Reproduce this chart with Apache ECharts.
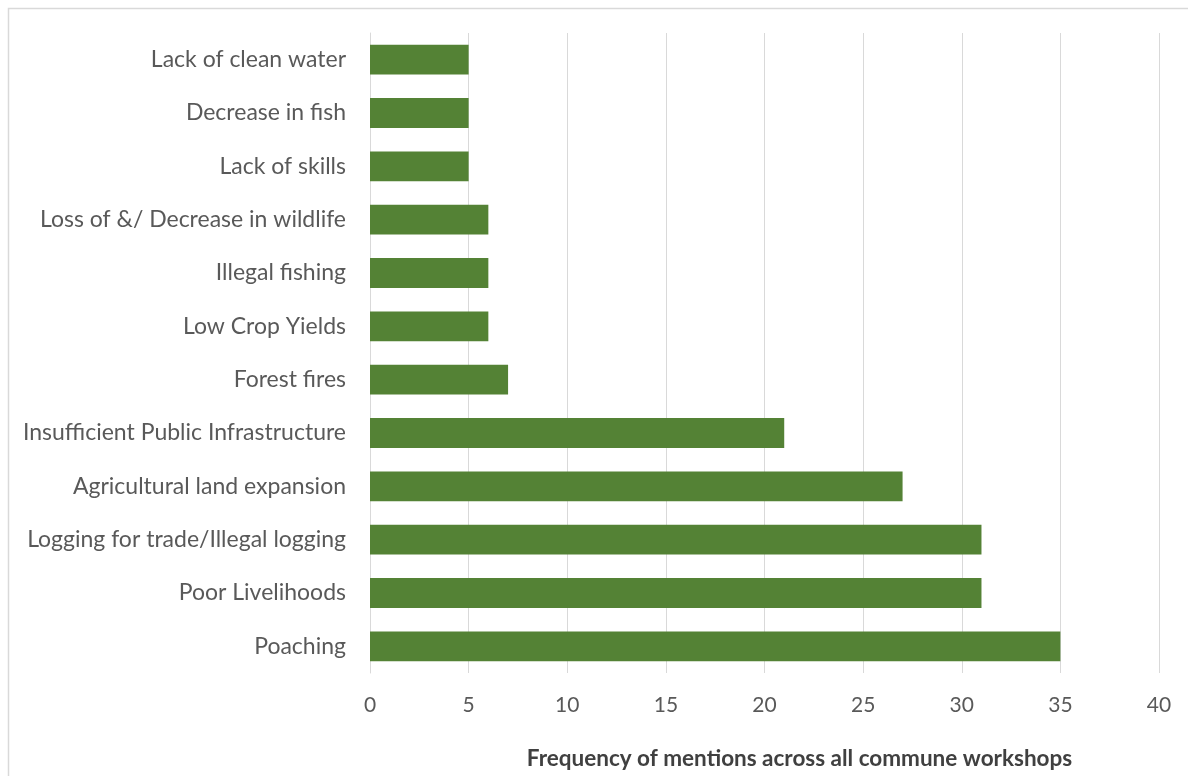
<!DOCTYPE html>
<html>
<head>
<meta charset="utf-8">
<script src="https://cdn.jsdelivr.net/npm/echarts@6/dist/echarts.min.js"></script>
<style>
  html, body { margin: 0; padding: 0; background: #ffffff; }
  #chart { width: 1188px; height: 776px; }
</style>
</head>
<body>
<div id="chart"></div>
<script>
// Problems raised in commune workshops (listed bottom-to-top on the category axis)
const categories = [
  'Poaching',
  'Poor Livelihoods',
  'Logging for trade/Illegal logging',
  'Agricultural land expansion',
  'Insufficient Public Infrastructure',
  'Forest fires',
  'Low Crop Yields',
  'Illegal fishing',
  'Loss of &/ Decrease in wildlife',
  'Lack of skills',
  'Decrease in fish',
  'Lack of clean water'
];
const mentions = [35, 31, 31, 27, 21, 7, 6, 6, 6, 5, 5, 5];
const axisTitle = 'Frequency of mentions across all commune workshops';

const FONT = 'Lato, "Open Sans", sans-serif';
const chart = echarts.init(document.getElementById('chart'));

chart.setOption({
  backgroundColor: '#ffffff',
  animation: false,
  graphic: [{
    type: 'rect',
    shape: { x: 8.5, y: 8.5, width: 1200, height: 800 },
    style: { fill: 'none', stroke: '#d9d9d9', lineWidth: 1.5 },
    silent: true
  }],
  grid: { left: 370, right: 29, top: 33, bottom: 103 },
  xAxis: {
    type: 'value',
    min: 0,
    max: 40,
    interval: 5,
    name: axisTitle,
    nameLocation: 'middle',
    nameGap: 74,
    nameTextStyle: {
      fontFamily: FONT, fontSize: 22.5, fontWeight: 'bold', color: '#404040',
      padding: [0, 0, 0, 70]
    },
    axisLine: { show: false },
    axisTick: { show: false },
    axisLabel: { fontFamily: FONT, fontSize: 21, color: '#595959', margin: 22 },
    splitLine: { show: true, lineStyle: { color: '#d9d9d9', width: 1 } }
  },
  yAxis: {
    type: 'category',
    data: categories,
    axisLine: { show: true, lineStyle: { color: '#d9d9d9', width: 1 } },
    axisTick: { show: false },
    axisLabel: { fontFamily: FONT, fontSize: 23, color: '#595959', margin: 24 }
  },
  series: [{
    type: 'bar',
    data: mentions,
    barCategoryGap: '44%',
    itemStyle: { color: '#548235' }
  }]
});
</script>
</body>
</html>
